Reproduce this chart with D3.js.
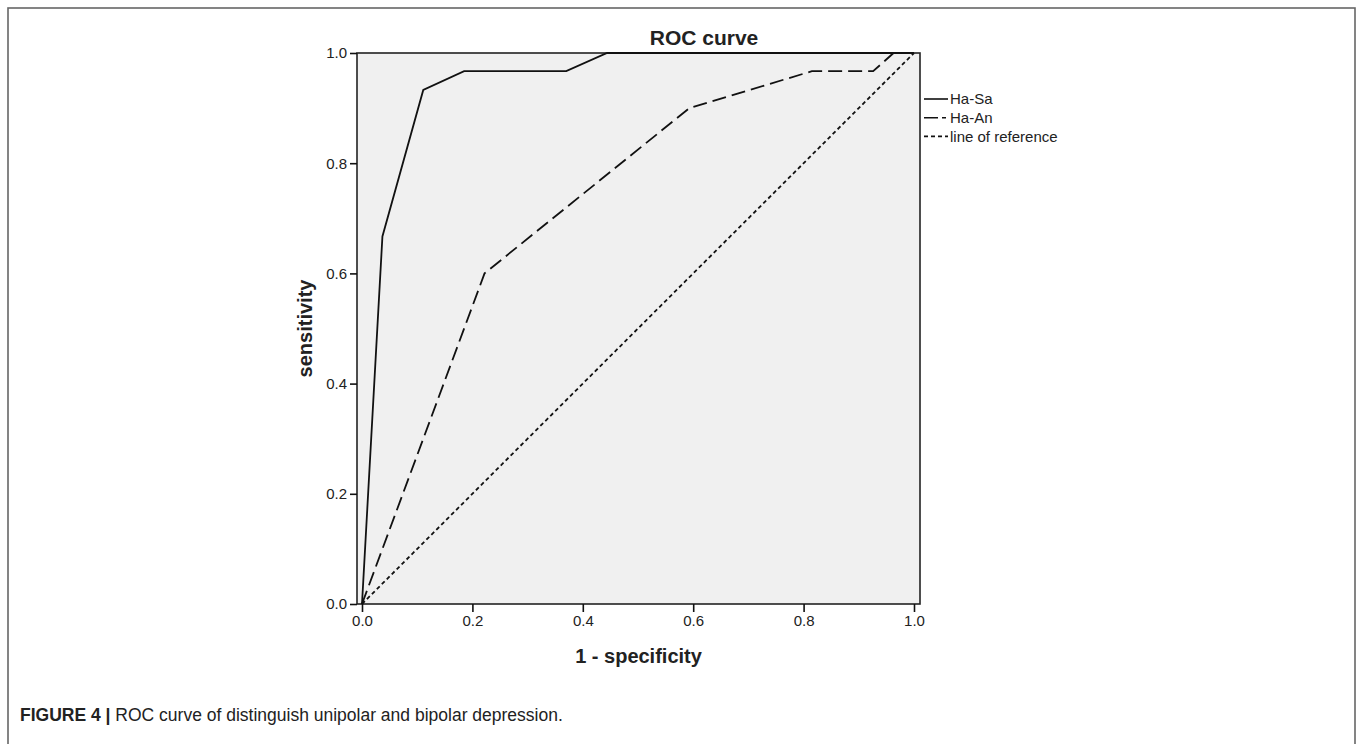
<!DOCTYPE html>
<html>
<head>
<meta charset="utf-8">
<script src="https://cdn.jsdelivr.net/npm/d3@7"></script>
<style>
  body { margin: 0; background: #fff; }
  svg { display: block; font-family: Arial, "Liberation Sans", sans-serif; }
</style>
</head>
<body>
<div id="chart"></div>
<script>
// data (1 - specificity, sensitivity)
const haSaX = [0, 0.037, 0.111, 0.185, 0.370, 0.444, 1];
const haSaY = [0, 0.667, 0.933, 0.967, 0.967, 1, 1];
const haAnX = [0, 0.222, 0.593, 0.815, 0.926, 0.963, 1];
const haAnY = [0, 0.600, 0.900, 0.967, 0.967, 1, 1];
const refX = [0, 1];
const refY = [0, 1];
const tickVals = [0, 0.2, 0.4, 0.6, 0.8, 1.0];
const seriesNames = ['Ha-Sa', 'Ha-An', 'line of reference'];

const width = 1358;
const height = 744;

// plot frame and value ranges (SPSS pads the x range a little)
const frame = { left: 357, right: 920, top: 53, bottom: 604 };
const scaleX = d3.scaleLinear().domain([0, 1]).range([362, 914]);
const scaleY = d3.scaleLinear().domain([0, 1]).range([604, 53]);

const dashes = [null, '14,6', '4,3'];

const $svg = d3.select('#chart').append('svg')
  .attr('width', width)
  .attr('height', height);

// outer figure border
$svg.append('rect')
  .attr('x', 8).attr('y', 8)
  .attr('width', 1347).attr('height', 780)
  .attr('fill', 'none')
  .attr('stroke', '#666')
  .attr('stroke-width', 1.6);

// plot background
$svg.append('rect')
  .attr('x', frame.left).attr('y', frame.top)
  .attr('width', frame.right - frame.left)
  .attr('height', frame.bottom - frame.top)
  .attr('fill', '#f0f0f0')
  .attr('stroke', '#222')
  .attr('stroke-width', 1.6);

// axes
const xAxis = d3.axisBottom(scaleX).tickValues(tickVals)
  .tickFormat(d3.format('.1f')).tickSize(8).tickSizeOuter(0);
const yAxis = d3.axisLeft(scaleY).tickValues(tickVals)
  .tickFormat(d3.format('.1f')).tickSize(7).tickSizeOuter(0);

const $x = $svg.append('g')
  .attr('transform', `translate(0, ${frame.bottom})`)
  .call(xAxis);
const $y = $svg.append('g')
  .attr('transform', `translate(${frame.left}, 0)`)
  .call(yAxis);

[$x, $y].forEach($a => {
  $a.select('.domain').remove();
  $a.selectAll('line').attr('stroke', '#111').attr('stroke-width', 1.6);
  $a.selectAll('text').attr('font-size', 15).attr('fill', '#222')
    .attr('font-family', 'Arial, "Liberation Sans", sans-serif');
});
$x.selectAll('text').attr('dy', '0.71em').attr('y', 11);
$y.selectAll('text').attr('x', -10);

// lines
const line = d3.line()
  .x(d => scaleX(d[0]))
  .y(d => scaleY(d[1]));

const series = [
  d3.zip(haSaX, haSaY),
  d3.zip(haAnX, haAnY),
  d3.zip(refX, refY)
];

$svg.append('g').selectAll('path')
  .data(series)
  .enter()
  .append('path')
  .attr('d', line)
  .attr('fill', 'none')
  .attr('stroke', '#111')
  .attr('stroke-width', 1.8)
  .attr('stroke-dasharray', (d, i) => dashes[i]);

// titles
$svg.append('text')
  .attr('x', 704).attr('y', 45)
  .attr('text-anchor', 'middle')
  .attr('font-size', 21).attr('font-weight', 'bold').attr('fill', '#222')
  .text('ROC curve');

$svg.append('text')
  .attr('x', (frame.left + frame.right) / 2).attr('y', 663)
  .attr('text-anchor', 'middle')
  .attr('font-size', 20).attr('font-weight', 'bold').attr('fill', '#222')
  .text('1 - specificity');

$svg.append('text')
  .attr('transform', `translate(312, ${(frame.top + frame.bottom) / 2}) rotate(-90)`)
  .attr('text-anchor', 'middle')
  .attr('font-size', 20).attr('font-weight', 'bold').attr('fill', '#222')
  .text('sensitivity');

// legend
const $legend = $svg.append('g').attr('transform', 'translate(924, 99)');
const $item = $legend.selectAll('g')
  .data(seriesNames)
  .enter()
  .append('g')
  .attr('transform', (d, i) => `translate(0, ${i * 18.7})`);

$item.append('line')
  .attr('x1', 0).attr('x2', 24)
  .attr('stroke', '#111')
  .attr('stroke-width', 1.6)
  .attr('stroke-dasharray', (d, i) => i === 1 ? '14,4,4' : dashes[i]);

$item.append('text')
  .attr('x', 26).attr('dy', '0.35em')
  .attr('font-size', 15).attr('fill', '#222')
  .text(d => d);

// caption
const $cap = $svg.append('text')
  .attr('x', 20).attr('y', 721)
  .attr('font-size', 17.5).attr('fill', '#222');
$cap.append('tspan').attr('font-weight', 'bold').text('FIGURE 4 | ');
$cap.append('tspan').text('ROC curve of distinguish unipolar and bipolar depression.');
</script>
</body>
</html>
